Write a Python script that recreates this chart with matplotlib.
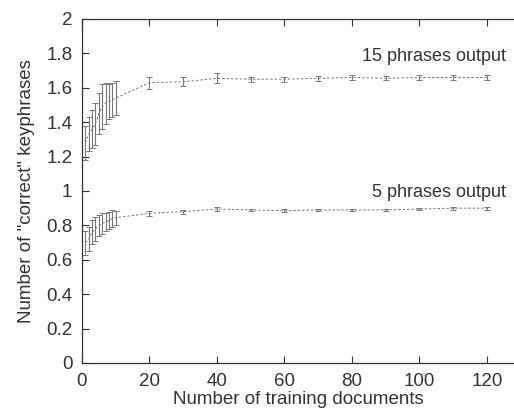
import matplotlib
matplotlib.use("Agg")
import matplotlib.pyplot as plt

plt.rcParams['font.family'] = ['Liberation Sans', 'DejaVu Sans']

# training documents
docs = [1, 2, 3, 4, 5, 6, 7, 8, 9, 10, 20, 30, 40, 50, 60, 70, 80, 90, 100, 110, 120]

# 15 phrases output
mean15 = [1.28, 1.33, 1.36, 1.39, 1.45, 1.49, 1.51, 1.52, 1.53, 1.54,
          1.63, 1.635, 1.655, 1.65, 1.65, 1.655, 1.66, 1.655, 1.66, 1.66, 1.66]
err15 = [0.10, 0.10, 0.11, 0.12, 0.12, 0.13, 0.12, 0.10, 0.10, 0.10,
         0.035, 0.025, 0.03, 0.015, 0.015, 0.015, 0.012, 0.012, 0.012, 0.012, 0.015]

# 5 phrases output
mean5 = [0.70, 0.72, 0.76, 0.78, 0.80, 0.81, 0.82, 0.83, 0.84, 0.845,
         0.87, 0.88, 0.895, 0.89, 0.885, 0.89, 0.89, 0.89, 0.895, 0.90, 0.90]
err5 = [0.07, 0.07, 0.07, 0.07, 0.06, 0.06, 0.05, 0.05, 0.05, 0.04,
        0.015, 0.012, 0.012, 0.008, 0.008, 0.008, 0.008, 0.008, 0.008, 0.008, 0.008]

fig = plt.figure(figsize=(5.14, 4.11), dpi=100)
ax = fig.add_axes([0.1595, 0.1168, 0.8405, 0.837])

for m, e, lab, ly in [(mean15, err15, "15 phrases output", 1.78),
                      (mean5, err5, "5 phrases output", 0.99)]:
    ax.errorbar(docs, m, yerr=e, color="#777777", lw=0.7, ls=(0, (2.5, 2)),
                elinewidth=0.8, capsize=2.5, capthick=0.7)
    ax.text(125.5, ly, lab, ha="right", va="center", fontsize=13, color="#333333")

ax.set_xlim(0, 128)
ax.set_ylim(0, 2)
ax.set_xticks([0, 20, 40, 60, 80, 100, 120])
ax.set_yticks([0, 0.2, 0.4, 0.6, 0.8, 1, 1.2, 1.4, 1.6, 1.8, 2])
ax.set_yticklabels(["0", "0.2", "0.4", "0.6", "0.8", "1", "1.2", "1.4", "1.6", "1.8", "2"])
ax.tick_params(direction="in", length=5, width=0.8, top=True, right=False,
               labelsize=13.5, colors="#333333", pad=7)
ax.spines["right"].set_visible(False)
for s in ["left", "bottom", "top"]:
    ax.spines[s].set_linewidth(0.9)
    ax.spines[s].set_color("#333333")

ax.set_xlabel("Number of training documents", fontsize=13.5, color="#333333", labelpad=1)
ax.set_ylabel('Number of "correct" keyphrases', fontsize=13.5, color="#333333", labelpad=8)

fig.savefig("out.png", dpi=100)
